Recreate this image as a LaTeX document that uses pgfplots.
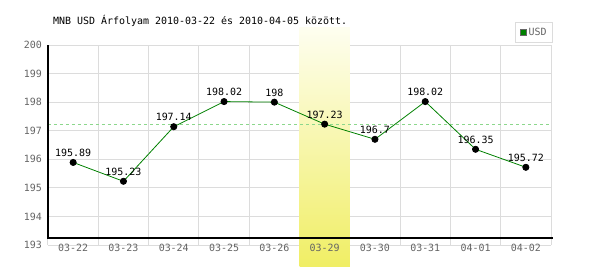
\documentclass[border=0pt]{standalone}
\usepackage{pgfplots}
\pgfplotsset{compat=1.18}
\usepackage{pgfplotstable}
\usepackage{fontspec}
\setmainfont{DejaVu Sans Mono}
\setmonofont{DejaVu Sans Mono}
\definecolor{gridgray}{RGB}{220,220,220}
\definecolor{lgreen}{RGB}{0,128,0}
\definecolor{avggreen}{RGB}{140,215,140}
\definecolor{ticklab}{RGB}{100,100,100}
\definecolor{bandtop}{RGB}{254,254,240}
\definecolor{bandbot}{RGB}{240,238,100}
\pgfplotstableread{
x y lab
0 195.89 195.89
1 195.23 195.23
2 197.14 197.14
3 198.02 198.02
4 198.00 198
5 197.23 197.23
6 196.70 196.7
7 198.02 198.02
8 196.35 196.35
9 195.72 195.72
}\usdtable
\begin{document}
\begin{tikzpicture}
\begin{axis}[
  at={(0,0)}, anchor=south west,
  scale only axis, width=503bp, height=200bp,
  xmin=-0.5, xmax=9.5, ymin=193, ymax=200,
  axis line style={draw=none},
  xtick={0,...,9},
  xticklabels={03-22,03-23,03-24,03-25,03-26,{},03-30,03-31,04-01,04-02},
  ytick={193,...,200},
  minor xtick={-0.5,0.5,...,9.5},
  xminorgrids=true, ymajorgrids=true, xmajorgrids=false,
  grid style={gridgray, line width=1bp},
  minor grid style={gridgray, line width=1bp},
  major tick length=0pt, minor tick length=0pt,
  tick label style={text=ticklab, font=\fontsize{10}{10}\selectfont},
  /pgf/number format/assume math mode=true,
  yticklabel style={anchor=east, inner sep=0pt, xshift=-6bp},
  xticklabel style={anchor=center, inner sep=0pt, yshift=-3bp},
  clip=false,
  title={MNB USD Árfolyam 2010-03-22 és 2010-04-05 között.},
  title style={at={(0.01,1.0715)}, anchor=base west, inner sep=0pt, font=\fontsize{10}{10}\selectfont},
  legend style={at={(1.004,1.115)}, anchor=north east, draw=gridgray, line width=1bp,
    font=\fontsize{10}{10}\selectfont, text=ticklab, inner xsep=4bp, inner ysep=3.5bp},
  legend image code/.code={\draw[black!60, line width=0.6bp, fill=lgreen] (0bp,-3bp) rectangle (6bp,3bp);},
]
\fill[top color=bandtop, bottom color=bandbot] (axis cs:4.5,192.23) rectangle (axis cs:5.5,200.62);
\addplot[avggreen, line width=0.8bp, dash pattern=on 3bp off 3bp, forget plot] coordinates {(-0.5,197.23) (9.5,197.23)};
\draw[black, line width=1.3bp] (axis cs:-0.5,200) -- (axis cs:-0.5,193.245) -- (axis cs:9.54,193.245);
\addplot[lgreen, line width=0.8bp, mark=*, mark size=3.1bp,
  mark options={fill=black, draw=black},
  nodes near coords, point meta=explicit symbolic,
  every node near coord/.append style={anchor=base, yshift=6bp, text=black, inner sep=0pt, font=\fontsize{10}{10}\selectfont}]
  table[x=x, y=y, meta=lab]{\usdtable};
\addlegendentry{USD}
\end{axis}
\begin{axis}[
  at={(0,0)}, anchor=south west,
  scale only axis, width=503bp, height=200bp,
  xmin=-0.5, xmax=9.5, ymin=193, ymax=200,
  axis line style={draw=none},
  xtick={5}, xticklabels={03-29},
  ytick=\empty,
  major tick length=0pt,
  tick label style={text=ticklab, font=\fontsize{10}{10}\selectfont},
  xticklabel style={anchor=center, inner sep=0pt, yshift=-3bp},
]
\end{axis}
\pgfresetboundingbox
\path[use as bounding box] (-48bp,-25bp) rectangle (552bp,245bp);
\end{tikzpicture}
\end{document}
